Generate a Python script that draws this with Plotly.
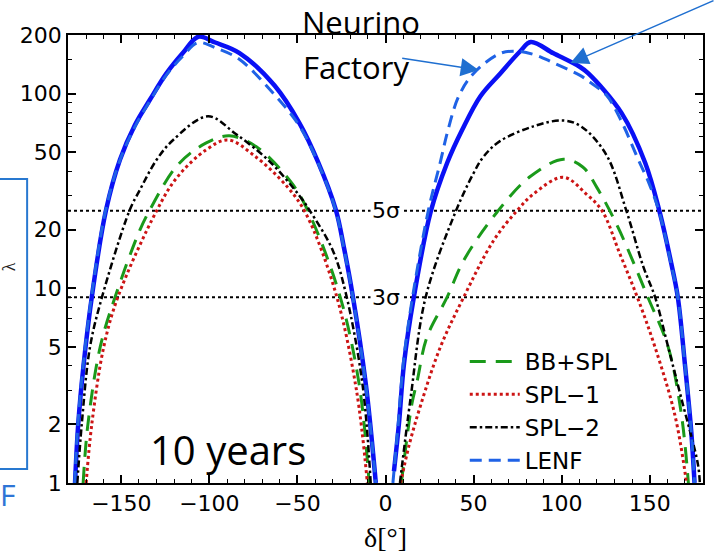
import numpy as np
import plotly.graph_objects as go

# delta_CP [deg] and Delta chi^2; None separates the two lobes
nf_delta = [-176.3, -174.5, -171.5, -166.8, -158.8, -150.8, -142.3, -133.8, -124.4, -115.0, -106.3,
            -96.7, -82.9, -63.0, -48.8, -38.5, -28.2, -23.5, -18.8, -11.2, -5.5, None,
            4.8, 7.6, 10.5, 16.1, 25.6, 35.0, 43.5, 53.9, 65.2, 76.5, 82.5,
            95.4, 110.5, 115.2, 134.0, 147.5, 155.7, 162.3, 166.0, 170.0, 173.6, 175.5]
nf_chi2 = [1.0, 2.0, 4.0, 9.0, 25.0, 45.7, 69.0, 93.0, 127.0, 162.0, 196.0,
           183.0, 161.6, 110.0, 70.4, 45.0, 25.3, 16.0, 9.4, 3.23, 1.0, None,
           1.15, 2.0, 4.1, 9.0, 24.6, 44.0, 65.0, 97.0, 127.0, 165.0, 184.0,
           161.0, 137.0, 127.0, 79.6, 44.0, 24.6, 13.4, 9.0, 4.1, 1.85, 1.0]

lenf_delta = [-176.5, -174.7, -171.7, -167.0, -159.0, -151.0, -142.5, -134.0, -124.6, -115.3, -106.5,
              -96.7, -83.0, -64.0, -48.8, -38.5, -28.2, -23.5, -18.8, -11.2, -5.5, None,
              4.2, 7.2, 10.2, 15.6, 24.5, 31.0, 35.5, 41.6, 50.0, 65.2, 74.6, 85.0, 95.4, 110.5,
              115.2, 125.5, 134.0, 143.0, 150.0, 155.6, 162.2, 166.0, 170.0, 173.6, 175.5]
lenf_chi2 = [1.0, 2.0, 4.0, 9.0, 25.0, 45.0, 67.0, 91.0, 124.0, 155.0, 182.6,
             172.0, 150.0, 101.0, 68.0, 44.5, 25.0, 15.8, 9.3, 3.2, 1.0, None,
             1.0, 2.0, 4.2, 9.3, 25.5, 44.0, 65.0, 97.0, 127.0, 161.0, 165.0, 158.0, 144.0, 124.0,
             116.0, 98.0, 72.0, 47.0, 34.0, 24.4, 13.3, 9.0, 4.1, 1.85, 1.0]

spl2_delta = [-175.0, -172.5, -167.8, -161.0, -145.2, -139.5, -130.0, -120.6, -100.8, -85.0, -66.0,
              -49.0, -43.3, -30.0, -22.5, -13.1, -8.4, None,
              8.2, 14.3, 22.8, 39.7, 50.0, 55.7, 65.0, 84.0, 101.0, 111.3, 125.4,
              136.8, 146.3, 153.1, 160.5, 167.9, 177.4, 178.5]
spl2_chi2 = [1.0, 2.0, 5.0, 9.0, 25.3, 32.0, 45.7, 57.8, 76.4, 62.0, 45.0,
             30.0, 25.3, 15.7, 9.4, 3.23, 1.0, None,
             1.0, 2.75, 9.0, 24.6, 39.0, 47.5, 57.0, 67.9, 72.8, 67.6, 48.5,
             25.0, 13.0, 9.0, 5.0, 2.74, 1.25, 1.0]

bbspl_delta = [-171.7, -169.0, -162.0, -153.6, -139.5, -133.8, -118.0, -101.8, -88.6, -73.5, -54.6,
               -45.2, -26.3, -15.0, -9.3, None,
               9.0, 15.0, 18.0, 23.5, 35.0, 44.4, 63.3, 82.0, 101.0, 112.0, 120.0,
               132.0, 149.0, 160.5, 168.0, 172.0]
bbspl_chi2 = [1.0, 2.0, 5.0, 9.0, 19.9, 25.3, 43.0, 55.8, 60.7, 53.5, 36.0,
              26.3, 9.4, 3.23, 1.0, None,
              1.0, 2.55, 3.35, 5.6, 9.0, 13.9, 24.6, 37.4, 46.0, 42.0, 33.0,
              20.6, 9.0, 5.0, 2.26, 1.0]

spl1_delta = [-170.0, -166.8, -160.0, -152.0, -130.0, -118.5, -101.8, -89.5, -74.5, -55.5,
              -45.0, -28.2, -16.5, -10.3, None,
              8.6, 13.3, 19.9, 31.2, 44.4, 61.4, 74.6, 84.0, 101.0, 114.0, 123.0,
              133.0, 143.0, 153.0, 164.2, 170.3, 170.8]
spl1_chi2 = [1.0, 2.0, 5.0, 9.0, 25.0, 37.0, 51.5, 57.8, 48.0, 33.0,
             24.0, 9.4, 3.0, 1.0, None,
             1.0, 1.55, 2.5, 5.0, 9.0, 17.6, 25.0, 30.5, 37.2, 30.5, 25.0,
             15.1, 9.0, 5.0, 2.26, 1.1, 1.0]

# 3 sigma / 5 sigma levels (chi^2 = 9, 25)
sigma_levels = [9, 25]
sigma_labels = ["3σ", "5σ"]
delta_span = [-180.3, 180.3]

x_ticks = [-150, -100, -50, 0, 50, 100, 150]
x_ticktext = ["−150", "−100", "−50", "0", "50", "100", "150"]
y_ticks = [1, 2, 5, 10, 20, 50, 100, 200]
y_minor = [3, 4, 6, 7, 8, 9, 30, 40, 60, 70, 80, 90, 150]

TICK_FONT = dict(family="DejaVu Sans", size=22, color="black")
SMOOTH = 1.0


def px(x, y):
    # pixel position in the 715x553 picture -> paper coords of the plot area
    return (x - 68) / 637, (483 - y) / 448


fig = go.Figure()

for lvl in sigma_levels:
    fig.add_trace(go.Scatter(x=delta_span, y=[lvl, lvl], mode="lines", showlegend=False,
                             hoverinfo="skip", line=dict(color="black", width=2, dash="3px,3px")))

fig.add_trace(go.Scatter(x=nf_delta, y=nf_chi2, mode="lines", name="NF", showlegend=False,
                         line=dict(color="#0a10f5", width=4.5, shape="spline", smoothing=SMOOTH)))
fig.add_trace(go.Scatter(x=bbspl_delta, y=bbspl_chi2, mode="lines", name="BB+SPL",
                         line=dict(color="#1a9a1a", width=3, dash="16px,10px", shape="spline", smoothing=SMOOTH)))
fig.add_trace(go.Scatter(x=spl1_delta, y=spl1_chi2, mode="lines", name="SPL−1",
                         line=dict(color="#cc1414", width=3, dash="3px,3px", shape="spline", smoothing=SMOOTH)))
fig.add_trace(go.Scatter(x=spl2_delta, y=spl2_chi2, mode="lines", name="SPL−2",
                         line=dict(color="black", width=2.5, dash="7px,3px,2.5px,3px", shape="spline", smoothing=SMOOTH)))
fig.add_trace(go.Scatter(x=lenf_delta, y=lenf_chi2, mode="lines", name="LENF",
                         line=dict(color="#1f62e6", width=3, dash="12px,7px", shape="spline", smoothing=SMOOTH)))

for lvl, lab in zip(sigma_levels, sigma_labels):
    fig.add_annotation(x=0, y=np.log10(lvl), xref="x", yref="y", text=lab, showarrow=False,
                       xanchor="center", yanchor="middle",
                       font=dict(family="DejaVu Sans", size=22, color="black"), bgcolor="white", borderpad=1)


def label(x, y, text, **kw):
    px_x, px_y = px(x, y)
    fig.add_annotation(x=px_x, y=px_y, xref="paper", yref="paper", text=text, showarrow=False,
                       xanchor="center", yanchor="middle", **kw)


txt = dict(family="Open Sans", color="black")
label(362, 22, "Neurino", font=dict(size=31, **txt))
label(357, 67, "Factory", font=dict(size=31, **txt))
label(229, 449, "10 years", font=dict(size=40, **txt))
label(386, 537, "δ[°]", font=dict(family="Liberation Serif", size=28, color="black"))

# arrows pointing at the curves
hx, hy = px(480, 70)
fig.add_annotation(x=hx, y=hy, xref="paper", yref="paper", text="", showarrow=True,
                   arrowhead=2, arrowsize=2.4, arrowwidth=1.5, arrowcolor="#1f6fd0", ax=-78, ay=-12)
hx, hy = px(572, 63)
fig.add_annotation(x=hx, y=hy, xref="paper", yref="paper", text="", showarrow=True,
                   arrowhead=2, arrowsize=2.4, arrowwidth=1.5, arrowcolor="#1f6fd0", ax=188, ay=-77)

# bits of the surrounding slide
bx0, by0 = px(-10, 469)
bx1, by1 = px(27, 179)
fig.add_shape(type="rect", xref="paper", yref="paper", x0=bx0, x1=bx1, y0=by0, y1=by1,
              line=dict(color="#2878d0", width=2))
label(9, 267, "λ", textangle=-90, font=dict(family="Liberation Serif", size=18, color="#222"))
label(7, 494, "F", font=dict(family="Open Sans", size=30, color="#2e75d6"))
cx, cy = px(620, 4)
fig.add_annotation(x=cx, y=cy, xref="paper", yref="paper", text="CP", showarrow=False,
                   xanchor="center", yanchor="bottom", font=dict(family="Open Sans", size=18, color="black"))

fig.update_xaxes(range=delta_span, tickvals=x_ticks, ticktext=x_ticktext, tickfont=TICK_FONT,
                 ticks="inside", ticklen=8, tickwidth=1.5, tickcolor="black",
                 minor=dict(dtick=10, ticks="inside", ticklen=4, tickwidth=1, tickcolor="black"),
                 showline=True, linecolor="black", linewidth=1.5, mirror="ticks",
                 showgrid=False, zeroline=False)
fig.update_yaxes(type="log", range=[0, np.log10(200)], tickvals=y_ticks, ticktext=[str(v) for v in y_ticks],
                 tickfont=TICK_FONT, ticks="inside", ticklen=8, tickwidth=1.5, tickcolor="black",
                 minor=dict(tickvals=y_minor, ticks="inside", ticklen=4, tickwidth=1, tickcolor="black"),
                 showline=True, linecolor="black", linewidth=1.5, mirror="ticks",
                 showgrid=False, zeroline=False)

lx, ly = px(466, 340)
fig.update_layout(
    width=715, height=553,
    margin=dict(l=68, r=10, t=35, b=70),
    paper_bgcolor="white", plot_bgcolor="white",
    legend=dict(x=lx, y=ly, xanchor="left", yanchor="top", bgcolor="rgba(0,0,0,0)",
                font=dict(family="DejaVu Sans", size=23, color="black"), itemwidth=50),
    showlegend=True,
)

# page body has a default 8px margin; drop it so the figure sits at the window corner
fig.write_html("out.html", config={"displayModeBar": False},
               post_script="document.body.style.margin='0px';")
